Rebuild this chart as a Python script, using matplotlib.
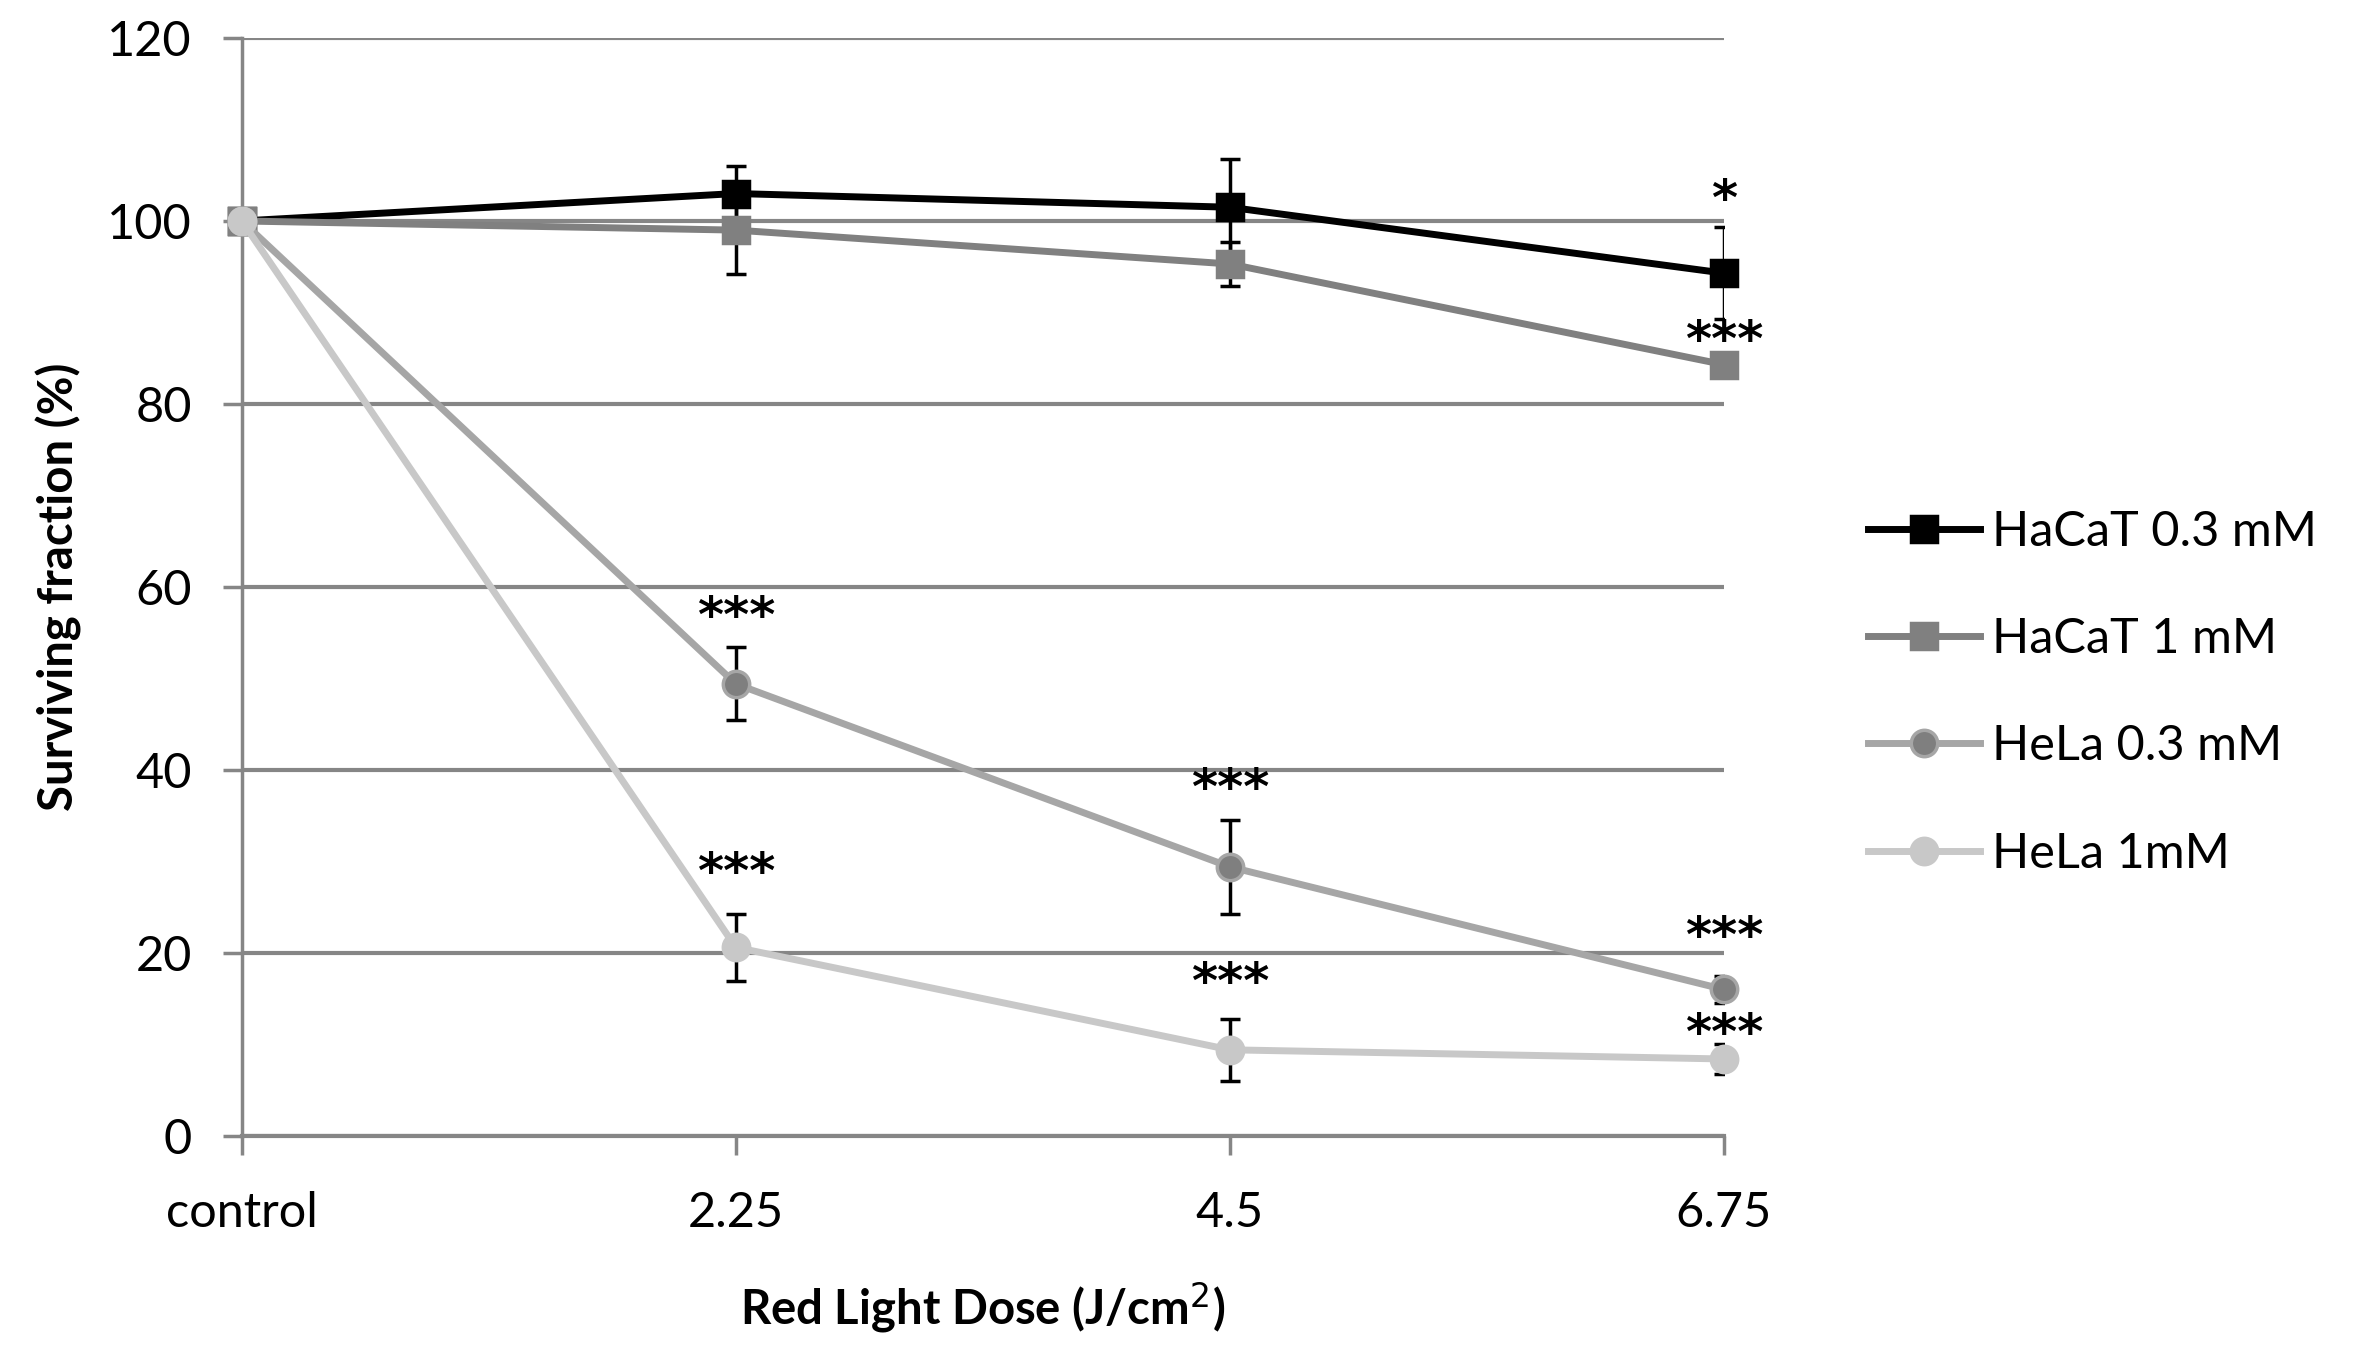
import matplotlib.pyplot as plt

# data
doses = ["control", "2.25", "4.5", "6.75"]
labels = ["HaCaT 0.3 mM", "HaCaT 1 mM", "HeLa 0.3 mM", "HeLa 1mM"]

hacat_03 = [100, 103.0, 101.5, 94.3]
hacat_1 = [100, 99.0, 95.3, 84.3]
hela_03 = [100, 49.4, 29.4, 16.0]
hela_1 = [100, 20.6, 9.4, 8.4]

hacat_03_err = [0, 3.0, 5.3, 5.0]
hacat_1_err = [0, 4.8, 2.4, 1.0]
hela_03_err = [0, 4.0, 5.1, 1.5]
hela_1_err = [0, 3.7, 3.4, 1.6]

# significance marks: (category index, y position, text)
stars = [(3, 102.2, "*"), (3, 86.8, "***"),
         (1, 56.6, "***"), (2, 37.8, "***"), (3, 21.6, "***"),
         (1, 28.6, "***"), (2, 16.6, "***"), (3, 11.0, "***")]

plt.rcParams['font.family'] = ['Lato', 'DejaVu Sans']

fig = plt.figure(figsize=(23.71, 13.57), dpi=100)
ax = fig.add_axes([0.102, 0.163, 0.625, 0.809])

series = [
    (hacat_03, hacat_03_err, "#000000", "s", "#000000", "#000000"),
    (hacat_1, hacat_1_err, "#808080", "s", "#808080", "#808080"),
    (hela_03, hela_03_err, "#a6a6a6", "o", "#7f7f7f", "#a6a6a6"),
    (hela_1, hela_1_err, "#c8c8c8", "o", "#c8c8c8", "#c8c8c8"),
]
x = list(range(len(doses)))

for (vals, errs, col, mk, mfc, mec), lab in zip(series, labels):
    ax.errorbar(x, vals, yerr=errs, fmt="none", ecolor="black",
                elinewidth=2.5, capsize=7, capthick=2.5, zorder=3)
    ax.plot(x, vals, color=col, lw=5, marker=mk, markersize=19,
            markerfacecolor=mfc, markeredgecolor=mec, markeredgewidth=2.5,
            label=lab, clip_on=False, zorder=4)

for xi, yi, txt in stars:
    ax.text(xi, yi, txt, ha="center", va="center", fontsize=36,
            fontweight="bold", family=["DejaVu Sans"], zorder=5)

ax.set_xlim(0, 3)
ax.set_ylim(0, 120)
ax.set_yticks(range(0, 121, 20))
ax.set_xticks(x)
ax.set_xticklabels(doses)

ax.yaxis.grid(True, color="#868686", lw=3)
ax.set_axisbelow(True)
for side in ["top", "right"]:
    ax.spines[side].set_visible(False)
ax.spines["left"].set_color("#868686")
ax.spines["left"].set_linewidth(2.5)
ax.spines["bottom"].set_color("#868686")
ax.spines["bottom"].set_linewidth(3)
ax.tick_params(axis="y", length=14, width=2.5, color="#868686",
               labelsize=35, pad=22)
ax.tick_params(axis="x", length=14, width=2.5, color="#868686",
               labelsize=35, pad=26)

ax.set_ylabel("Surviving fraction (%)", fontsize=34, fontweight="bold",
              labelpad=18)
ax.set_xlabel("Red Light Dose (J/cm$^2$)", fontsize=34, fontweight="bold",
              labelpad=32)

fig.legend(loc="center left", bbox_to_anchor=(0.788, 0.4895),
           frameon=False, fontsize=35, handlelength=2.3, handletextpad=0.25,
           labelspacing=1.3, borderpad=0, borderaxespad=0)

plt.savefig("out.png", dpi=100)
